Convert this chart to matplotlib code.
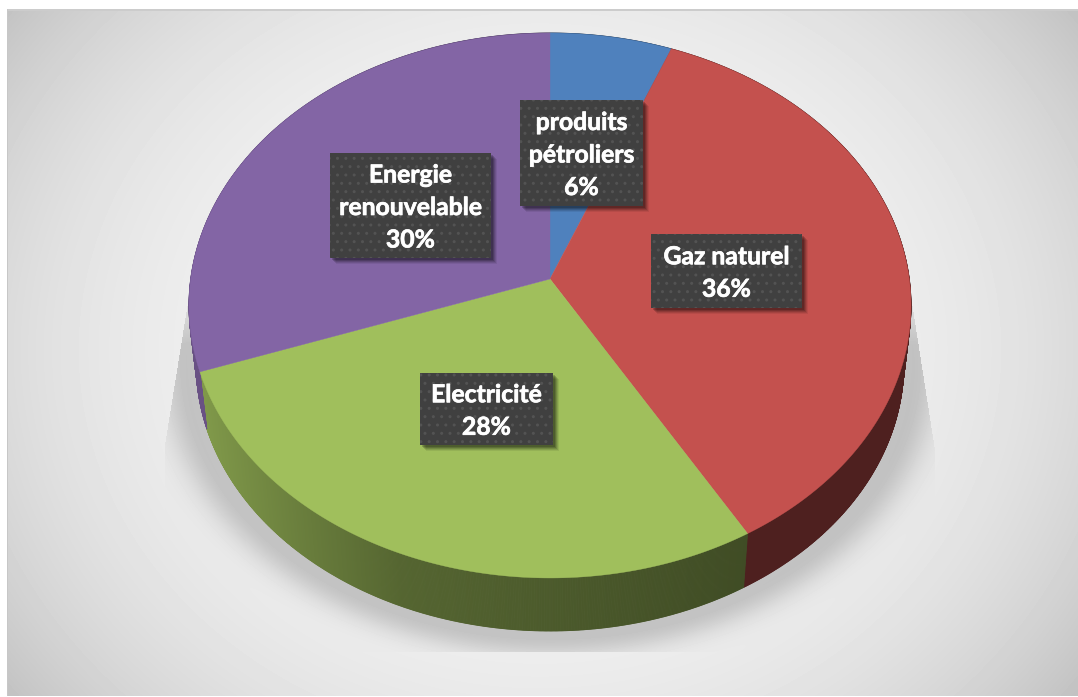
import numpy as np
import matplotlib
matplotlib.use("Agg")
import matplotlib.pyplot as plt
import matplotlib.patheffects as pe
from matplotlib.patches import Polygon, Rectangle
from matplotlib.collections import PolyCollection
from matplotlib.colors import to_rgb

# data
names = ["produits\npétroliers", "Gaz naturel", "Electricité", "Energie\nrenouvelable"]
values = [6.0, 35.6, 28.0, 30.4]
printed = ["6%", "36%", "28%", "30%"]
colors = ["#4f81bd", "#c4514e", "#a0bf5c", "#8365a5"]

# label boxes, in pixels: left, top, right, bottom
boxes = [(520, 100, 643, 206), (651, 234, 802, 308), (420, 373, 553, 445), (330, 153, 491, 258)]

W, H = 1078, 697
CX = 550
APEX_TOP = 279   # where the slices meet
APEX_BOT = 338   # same point on the underside
SCALE_BOT = 0.98
C = -0.0972      # perspective of the tilted disc
A = 269.9
B = 359.3


def project(theta, apex_y, scale=1.0):
    u = np.sin(theta)
    v = -np.cos(theta)
    d = 1 + C * v
    return CX + scale * B * u / d, apex_y + scale * A * v / d


fig = plt.figure(figsize=(W / 100, H / 100), dpi=100, facecolor="white")
ax = fig.add_axes([0, 0, 1, 1])
ax.set_xlim(0, W)
ax.set_ylim(H, 0)
ax.axis("off")

# background: grey radial gradient plus the soft shadow below the pie
yy, xx = np.mgrid[0:H, 0:W] + 0.5
r = np.sqrt(((xx - 540) / 700) ** 2 + ((yy - 350) / 600) ** 2)
bg = 0.955 - 0.225 * r ** 3.15

rim = np.sqrt(((xx - CX) / 356) ** 2 + ((yy - 364) / 267) ** 2)
dist = (rim - 1) * 300
shadow = 0.18 * np.exp(-(np.clip(dist - 6, 0, None) / 24) ** 2)
shadow = shadow * np.clip((yy - 285) / 60, 0, 1)
xl = np.interp(yy, [290, 445], [190, 165])
xr = np.interp(yy, [290, 450], [910, 935])
shadow = np.where((xx > xl) & (xx < xr) & (yy < 652), shadow, 0)
bg = bg * (1 - shadow)
bg[:9, :] = 1.0
bg[:, :7] = 1.0
bg[696:, :] = 1.0
bg[9:11, 7:] = 0.8
bg[9:696, 7:8] = 0.78
ax.imshow(bg, cmap="gray", vmin=0, vmax=1, extent=(0, W, H, 0), aspect="auto",
          interpolation="bilinear", zorder=0)

edges = np.cumsum([0] + values) / sum(values) * 2 * np.pi

# side wall first, shaded from left to right
for i, col in enumerate(colors):
    t = np.linspace(edges[i], edges[i + 1], int(values[i] * 20) + 2)
    x1, y1 = project(t, APEX_TOP)
    x2, y2 = project(t, APEX_BOT, SCALE_BOT)
    quads = []
    cols = []
    base = np.array(to_rgb(col))
    for j in range(len(t) - 1):
        quads.append([(x1[j], y1[j]), (x1[j + 1], y1[j + 1]), (x2[j + 1], y2[j + 1]), (x2[j], y2[j])])
        k = np.interp((x1[j] + x1[j + 1]) / 2, [200, 300, 400, 745], [0.8, 0.66, 0.53, 0.4])
        cols.append(base * k)
    ax.add_collection(PolyCollection(quads, facecolors=cols, edgecolors=cols, linewidths=0.6, zorder=2))

# top face
for i, col in enumerate(colors):
    t = np.linspace(edges[i], edges[i + 1], int(values[i] * 6) + 2)
    x, y = project(t, APEX_TOP)
    pts = [(CX, APEX_TOP)] + list(zip(x, y))
    ax.add_patch(Polygon(pts, closed=True, facecolor=col, edgecolor=col, linewidth=0.3, zorder=3))

# data labels
for name, pct, (l, t, r_, b) in zip(names, printed, boxes):
    for off, a in [(7, 0.07), (6, 0.10), (5, 0.13), (4, 0.16), (3, 0.18)]:
        ax.add_patch(Rectangle((l + off - 1, t + off - 1), r_ - l, b - t, facecolor="black",
                               edgecolor="none", alpha=a, zorder=4))
    ax.add_patch(Rectangle((l, t), r_ - l, b - t, facecolor="#404040", edgecolor="#535353",
                           hatch="..", linewidth=0, zorder=5))
    ax.text((l + r_) / 2, (t + b) / 2 + 2, name + "\n" + pct, color="white", fontsize=17.8,
            fontweight="bold", family="Lato", ha="center", va="center", linespacing=1.5, zorder=6,
            path_effects=[pe.withStroke(linewidth=0.5, foreground="white")])

fig.savefig("out.png", dpi=100, facecolor="white")
